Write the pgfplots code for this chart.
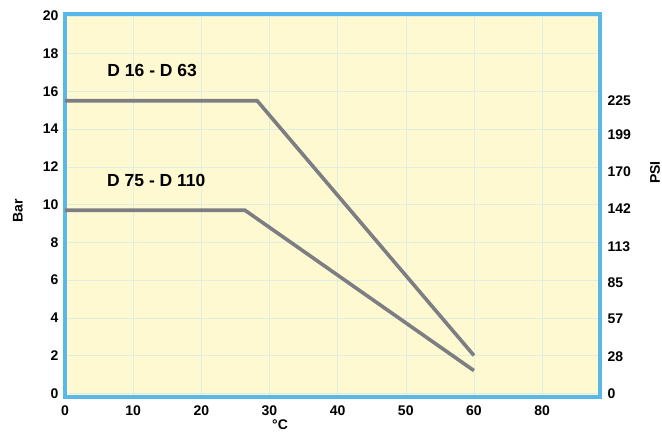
\documentclass[border=0pt]{standalone}
\usepackage{pgfplots}
\pgfplotsset{compat=1.18}
\usepackage{fontspec}
\setmainfont{Liberation Sans}
\definecolor{bgyel}{RGB}{254,249,208}
\definecolor{bordblue}{RGB}{88,184,234}
\definecolor{linegray}{RGB}{125,125,132}
\definecolor{gridblue}{RGB}{222,238,225}
\begin{document}
\begin{tikzpicture}
\path[use as bounding box] (-65pt,-35pt) rectangle (597pt,397pt);
\begin{axis}[
  scale only axis, width=535pt, height=383pt,
  xmin=0, xmax=78.5, ymin=-0.2, ymax=20.1,
  axis background/.style={fill=bgyel},
  axis line style={draw=bordblue, line width=3.5pt},
  xtick={0,10,20,30,40,50,60,70},
  xticklabels={0,10,20,30,40,50,60,80},
  ytick={0,2,...,20},
  major tick length=0pt,
  grid=major,
  grid style={gridblue, line width=0.5pt},
  tick label style={font=\fontsize{14}{16}\selectfont\bfseries},
  /pgf/number format/assume math mode=true,
  xticklabel style={yshift=-5pt},
  yticklabel style={xshift=-3pt},
  xlabel={°C},
  xlabel style={font=\fontsize{14}{16}\selectfont\bfseries, at={(rel axis cs:0.402,0)}, anchor=center, yshift=-28pt},
  ylabel={Bar},
  ylabel style={font=\fontsize{14}{16}\selectfont\bfseries, at={(rel axis cs:0,0.487)}, anchor=center, yshift=47pt},
  clip=false,
]
\addplot[linegray, line width=3.6pt, line join=miter] coordinates {(0,15.5) (28.2,15.5) (60,2.0)};
\addplot[linegray, line width=3.6pt, line join=miter] coordinates {(0,9.7) (26.4,9.7) (60,1.2)};
\node[font=\fontsize{17.5}{19}\selectfont\bfseries] at (axis cs:12.8,17.1) {D 16 - D 63};
\node[font=\fontsize{17.5}{19}\selectfont\bfseries] at (axis cs:13.4,11.3) {D 75 - D 110};
\end{axis}
\begin{axis}[
  scale only axis, width=535pt, height=383pt,
  xmin=0, xmax=78.5, ymin=-2.9, ymax=291.45,
  hide x axis,
  axis y line*=right,
  axis line style={draw=none},
  ytick={0,28,57,85,113,142,170,199,225},
  major tick length=0pt,
  tick label style={font=\fontsize{14}{16}\selectfont\bfseries},
  /pgf/number format/assume math mode=true,
  yticklabel style={xshift=4pt},
  ylabel={PSI},
  ylabel style={font=\fontsize{14}{16}\selectfont\bfseries, at={(rel axis cs:1,0.586)}, anchor=center, yshift=-55pt},
]
\end{axis}
\end{tikzpicture}
\end{document}
